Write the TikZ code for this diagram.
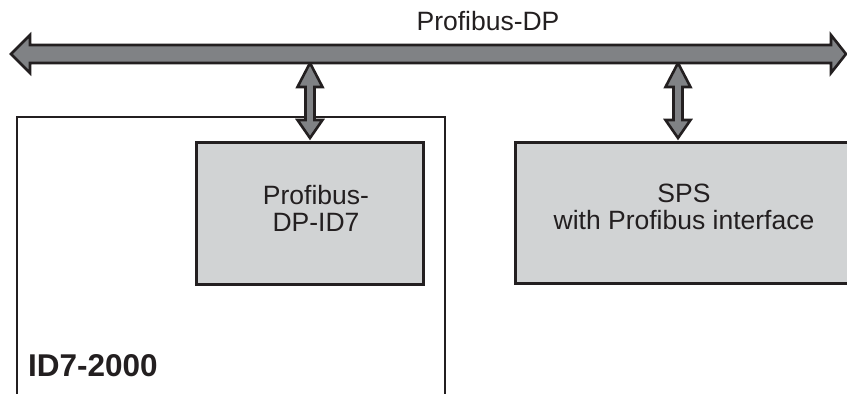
\documentclass[tikz,border=0pt]{standalone}
\usepackage{fontspec}
\setmainfont{Liberation Sans}
\usetikzlibrary{calc}
\definecolor{outl}{HTML}{231F20}
\definecolor{busgray}{HTML}{808285}
\definecolor{boxgray}{HTML}{D1D3D4}
\begin{document}
\begin{tikzpicture}[x=1pt,y=1pt,line join=miter,
  fatarrow/.style={draw=outl, fill=busgray, line width=2.6pt},
  blockbox/.style={draw=outl, fill=boxgray, line width=2.6pt, inner sep=0pt},
  framebox/.style={draw=outl, line width=2pt, inner sep=0pt},
  lbl/.style={font=\fontsize{26.5}{27}\selectfont, text=outl, align=center, inner sep=0pt}]
\useasboundingbox (0,0) rectangle (847,394);
\clip (0,0) rectangle (847,394);
% outer device frame (bottom lies outside the picture)
\node[framebox, minimum width=428, minimum height=320, anchor=north west] (id7) at (16,278) {};
% blocks
\node[blockbox, minimum width=227, minimum height=142, anchor=north west] (dp) at (195,253) {};
\node[blockbox, minimum width=345, minimum height=141, anchor=north west] (sps) at (514,253) {};
% bus taps
\coordinate (tap1) at (310,331);
\coordinate (tap2) at (678,331);
\foreach \t/\b in {tap1/dp, tap2/sps}{
  \draw[fatarrow] let \p1=(\t), \p2=(\b.north) in
    (\x1,\y1) -- (\x1+12.5pt,\y1-24pt) -- (\x1+4.5pt,\y1-24pt) --
    (\x1+4.5pt,\y2+21pt) -- (\x1+12.5pt,\y2+21pt) -- (\x1,\y2+3pt) --
    (\x1-12.5pt,\y2+21pt) -- (\x1-4.5pt,\y2+21pt) --
    (\x1-4.5pt,\y1-24pt) -- (\x1-12.5pt,\y1-24pt) -- cycle;
}
% bus
\draw[fatarrow] (11,340) -- (30,359) -- (30,349) -- (831,349) -- (831,359) --
  (846,340) -- (831,321) -- (831,331) -- (30,331) -- (30,321) -- cycle;
% labels
\node[lbl, anchor=base] (title) at (488,363) {Profibus-DP};
\node[lbl] (dptxt) at (316,186) {Profibus-\\DP-ID7};
\node[lbl] (spstxt) at (684,187) {SPS\\with Profibus interface};
\node[lbl, font=\fontsize{31.5}{32}\selectfont\bfseries, anchor=base west] (id7lbl) at (28,17) {ID7-2000};
\end{tikzpicture}
\end{document}
